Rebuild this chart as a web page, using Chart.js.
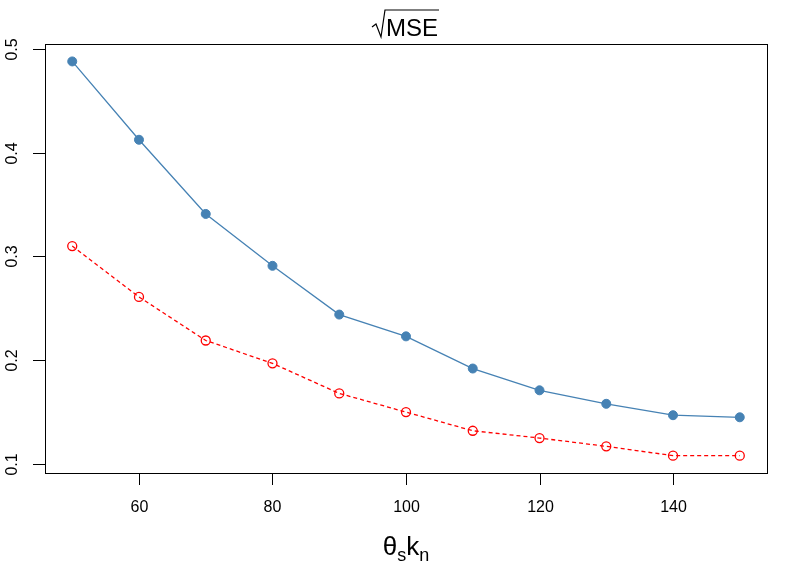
<!DOCTYPE html>
<html>
<head>
<meta charset="utf-8">
<script src="https://cdn.jsdelivr.net/npm/chart.js@4"></script>
<style>
  body { margin: 0; background: #fff; }
  #wrap { width: 789px; height: 564px; }
</style>
</head>
<body>
<div id="wrap"><canvas id="c"></canvas></div>
<script>
// data
const thetaK = [50, 60, 70, 80, 90, 100, 110, 120, 130, 140, 150];
const blueSeries = [0.488, 0.4125, 0.341, 0.291, 0.244, 0.223, 0.192, 0.171, 0.158, 0.147, 0.145];
const redSeries = [0.310, 0.261, 0.219, 0.197, 0.168, 0.150, 0.132, 0.125, 0.117, 0.108, 0.108];
const xTicks = [60, 80, 100, 120, 140];
const yTicks = [0.1, 0.2, 0.3, 0.4, 0.5];

const FONT = '"Liberation Sans", Arial, sans-serif';

// R-style box, ticks and labels drawn by hand
const rAxes = {
    id: 'rAxes',
    afterDraw(chart) {
        const ctx = chart.ctx;
        const a = chart.chartArea;
        const xs = chart.scales.x, ys = chart.scales.y;
        ctx.save();
        ctx.strokeStyle = '#000';
        ctx.fillStyle = '#000';
        ctx.lineWidth = 1;
        ctx.strokeRect(a.left + 0.5, a.top + 0.5, a.right - a.left, a.bottom - a.top);

        ctx.font = '16px ' + FONT;
        ctx.textAlign = 'center';
        xTicks.forEach(v => {
            const px = Math.round(xs.getPixelForValue(v)) + 0.5;
            ctx.beginPath(); ctx.moveTo(px, a.bottom); ctx.lineTo(px, a.bottom + 12); ctx.stroke();
            ctx.textBaseline = 'middle';
            ctx.fillText(String(v), px, a.bottom + 35);
        });
        yTicks.forEach(v => {
            const py = Math.round(ys.getPixelForValue(v)) + 0.5;
            ctx.beginPath(); ctx.moveTo(a.left, py); ctx.lineTo(a.left - 12, py); ctx.stroke();
            ctx.save();
            ctx.translate(a.left - 32, py);
            ctx.rotate(-Math.PI / 2);
            ctx.textBaseline = 'middle';
            ctx.fillText(v.toFixed(1), 0, 0);
            ctx.restore();
        });

        // x label: theta_s k_n
        const cx = (a.left + a.right) / 2;
        ctx.textAlign = 'left';
        ctx.textBaseline = 'alphabetic';
        const big = '26px ' + FONT, small = '18px ' + FONT;
        const parts = [['θ', big, 0], ['s', small, 6], ['k', big, 0], ['n', small, 6]];
        let w = 0;
        parts.forEach(p => { ctx.font = p[1]; w += ctx.measureText(p[0]).width; });
        let x = cx - w / 2;
        parts.forEach(p => {
            ctx.font = p[1];
            ctx.fillText(p[0], x, 555 + p[2]);
            x += ctx.measureText(p[0]).width;
        });

        // title: sqrt(MSE)
        ctx.font = '24px ' + FONT;
        const tw = ctx.measureText('MSE').width;
        const tx = cx - tw / 2 + 6;
        ctx.fillText('MSE', tx, 36);
        ctx.lineWidth = 1.2;
        ctx.beginPath();
        ctx.moveTo(tx - 14, 27);
        ctx.lineTo(tx - 10, 24);
        ctx.lineTo(tx - 5, 37);
        ctx.lineTo(tx - 1, 10);
        ctx.lineTo(tx + tw + 1, 10);
        ctx.stroke();
        ctx.restore();
    }
};

new Chart(document.getElementById('c'), {
    type: 'line',
    data: {
        labels: thetaK,
        datasets: [{
            data: thetaK.map((x, i) => ({ x: x, y: blueSeries[i] })),
            borderColor: '#4682b4',
            backgroundColor: '#4682b4',
            borderWidth: 1.3,
            pointRadius: 4.5,
            pointBorderWidth: 1,
            tension: 0
        }, {
            data: thetaK.map((x, i) => ({ x: x, y: redSeries[i] })),
            borderColor: '#ff0000',
            backgroundColor: 'rgba(0,0,0,0)',
            borderWidth: 1.3,
            borderDash: [4, 3],
            pointRadius: 4.5,
            pointBorderWidth: 1.3,
            tension: 0
        }]
    },
    options: {
        responsive: true,
        maintainAspectRatio: false,
        animation: false,
        layout: { padding: { left: 45, top: 44, right: 22, bottom: 91 } },
        plugins: { legend: { display: false }, tooltip: { enabled: false } },
        scales: {
            x: { type: 'linear', min: 45.92, max: 154.08, display: false },
            y: { type: 'linear', min: 0.0913, max: 0.5048, display: false }
        }
    },
    plugins: [rAxes]
});
</script>
</body>
</html>
